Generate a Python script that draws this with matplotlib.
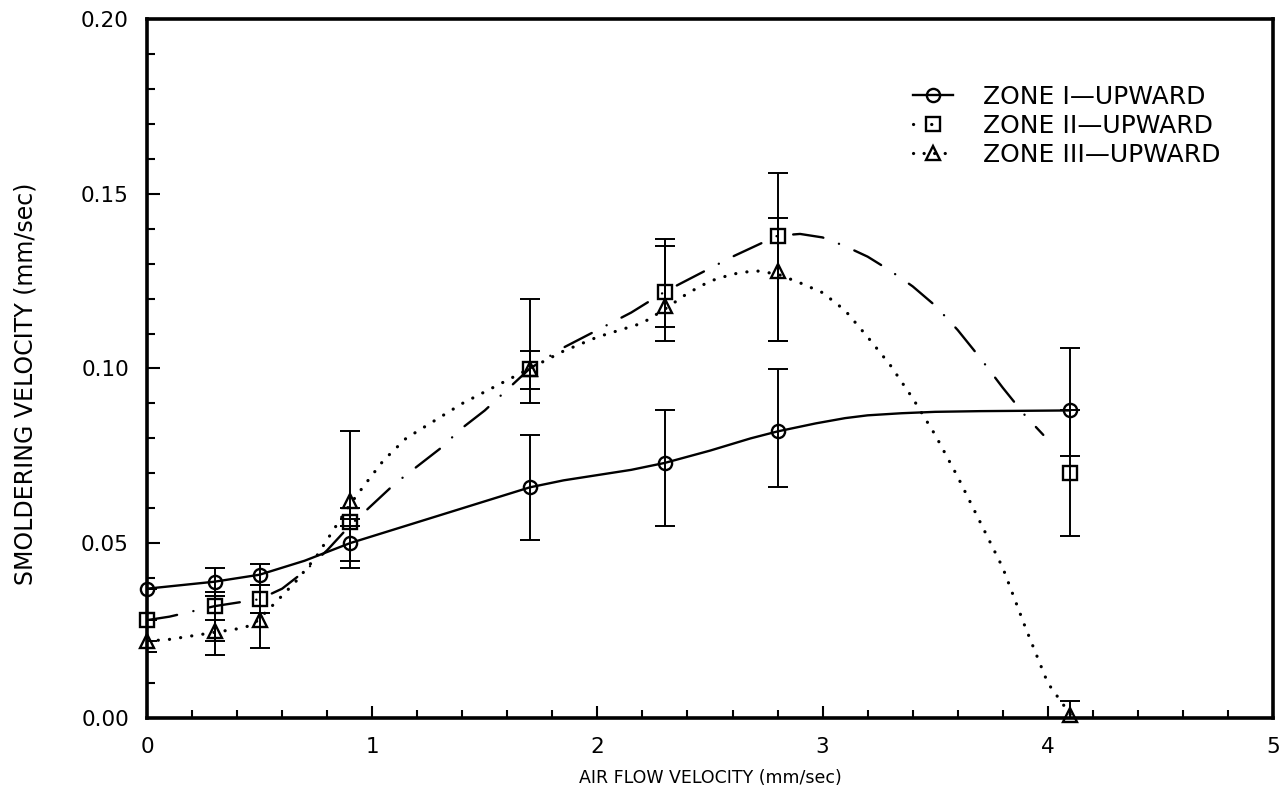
import matplotlib
matplotlib.use("Agg")
import matplotlib.pyplot as plt
from matplotlib.lines import Line2D
from matplotlib.ticker import MultipleLocator, FormatStrFormatter

plt.rcParams['font.family'] = ['DejaVu Sans']
plt.rcParams['lines.scale_dashes'] = False

# Measured points (air flow velocity, mm/sec)
air_flow = [0.0, 0.3, 0.5, 0.9, 1.7, 2.3, 2.8, 4.1]

zone1_v = [0.037, 0.039, 0.041, 0.050, 0.066, 0.073, 0.082, 0.088]
zone1_lo = [0.0, 0.004, 0.003, 0.005, 0.015, 0.018, 0.016, 0.013]
zone1_hi = [0.0, 0.004, 0.003, 0.005, 0.015, 0.015, 0.018, 0.018]

zone2_v = [0.028, 0.032, 0.034, 0.056, 0.100, 0.122, 0.138, 0.070]
zone2_lo = [0.0, 0.010, 0.004, 0.013, 0.010, 0.014, 0.030, 0.018]
zone2_hi = [0.0, 0.004, 0.004, 0.004, 0.020, 0.015, 0.018, 0.018]

zone3_v = [0.022, 0.025, 0.028, 0.062, 0.100, 0.118, 0.128, 0.001]
zone3_lo = [0.003, 0.007, 0.008, 0.005, 0.006, 0.006, 0.020, 0.001]
zone3_hi = [0.0, 0.003, 0.002, 0.020, 0.005, 0.017, 0.015, 0.004]

# Fitted trend curves
fit1_x = [0.0, 0.15, 0.3, 0.5, 0.6, 0.7, 0.82, 0.9, 1.0, 1.15, 1.3, 1.45, 1.6, 1.7,
          1.85, 2.0, 2.15, 2.3, 2.5, 2.68, 2.8, 2.97, 3.1, 3.2, 3.35, 3.5, 3.7, 3.9, 4.1]
fit1_y = [0.037, 0.038, 0.039, 0.041, 0.043, 0.045, 0.048, 0.050, 0.052, 0.055, 0.058,
          0.061, 0.064, 0.066, 0.068, 0.0695, 0.071, 0.073, 0.0765, 0.080, 0.082, 0.0843,
          0.0858, 0.0866, 0.0872, 0.0876, 0.0878, 0.0879, 0.088]

fit2_x = [0.0, 0.1, 0.2, 0.3, 0.4, 0.5, 0.6, 0.7, 0.8, 0.9, 1.0, 1.1, 1.2, 1.3, 1.4,
          1.5, 1.6, 1.7, 1.85, 2.0, 2.15, 2.3, 2.45, 2.6, 2.7, 2.8, 2.9, 3.0, 3.1, 3.2,
          3.3, 3.4, 3.5, 3.6, 3.7, 3.8, 3.9, 3.98]
fit2_y = [0.028, 0.029, 0.0305, 0.032, 0.033, 0.034, 0.037, 0.042, 0.048, 0.055, 0.061,
          0.067, 0.072, 0.077, 0.083, 0.088, 0.094, 0.100, 0.106, 0.111, 0.116, 0.122,
          0.127, 0.132, 0.135, 0.138, 0.1385, 0.1375, 0.135, 0.132, 0.128, 0.1235, 0.118,
          0.111, 0.103, 0.0945, 0.0865, 0.081]

fit3_x = [0.0, 0.1, 0.2, 0.3, 0.4, 0.47, 0.57, 0.66, 0.75, 0.83, 0.9, 0.97, 1.05, 1.15,
          1.25, 1.4, 1.55, 1.7, 1.85, 2.0, 2.1, 2.2, 2.3, 2.4, 2.5, 2.6, 2.7, 2.8, 2.9,
          3.0, 3.1, 3.2, 3.3, 3.4, 3.5, 3.6, 3.7, 3.8, 3.9, 4.0, 4.1]
fit3_y = [0.022, 0.0225, 0.0235, 0.0245, 0.0255, 0.0266, 0.033, 0.039, 0.046, 0.054,
          0.061, 0.067, 0.0737, 0.080, 0.084, 0.090, 0.095, 0.100, 0.105, 0.109, 0.111,
          0.113, 0.117, 0.1215, 0.125, 0.127, 0.128, 0.127, 0.1245, 0.1217, 0.1166, 0.109,
          0.101, 0.0915, 0.081, 0.069, 0.056, 0.043, 0.026, 0.010, 0.001]

labels = ["ZONE I\u2014UPWARD", "ZONE II\u2014UPWARD", "ZONE III\u2014UPWARD"]

fig = plt.figure(figsize=(12.8, 7.99), dpi=100)
ax = fig.add_axes([147 / 1280, 81 / 799, 1126 / 1280, 699 / 799])

ink = 'black'
dash2 = (0, (22, 12, 0.1, 12))
dot3 = (0, (0.1, 8))

# trend curves
ax.plot(fit1_x, fit1_y, color=ink, lw=1.7, ls='-', solid_capstyle='round')
ax.plot(fit2_x, fit2_y, color=ink, lw=1.7, ls=dash2, dash_capstyle='round')
ax.plot(fit3_x, fit3_y, color=ink, lw=2.3, ls=dot3, dash_capstyle='round')

# error bars
err_kw = dict(fmt='none', ecolor=ink, elinewidth=1.4, capsize=7, capthick=1.4)
ax.errorbar(air_flow, zone1_v, yerr=[zone1_lo, zone1_hi], **err_kw)
ax.errorbar(air_flow, zone2_v, yerr=[zone2_lo, zone2_hi], **err_kw)
ax.errorbar(air_flow, zone3_v, yerr=[zone3_lo, zone3_hi], **err_kw)

# markers
mk_kw = dict(ls='none', mfc='none', mec=ink, mew=1.7, clip_on=False)
ax.plot(air_flow, zone1_v, marker='o', ms=9.5, **mk_kw)
ax.plot(air_flow, zone2_v, marker='s', ms=9.5, **mk_kw)
ax.plot(air_flow, zone3_v, marker='^', ms=9.5, **mk_kw)

ax.set_xlim(0, 5)
ax.set_ylim(0, 0.20)
ax.xaxis.set_major_locator(MultipleLocator(1))
ax.xaxis.set_minor_locator(MultipleLocator(0.2))
ax.yaxis.set_major_locator(MultipleLocator(0.05))
ax.yaxis.set_minor_locator(MultipleLocator(0.01))
ax.yaxis.set_major_formatter(FormatStrFormatter('%.2f'))
ax.xaxis.set_major_formatter(FormatStrFormatter('%d'))

ax.tick_params(which='both', direction='in', top=False, right=False, width=1.5, colors=ink)
ax.tick_params(which='major', length=9)
ax.tick_params(which='minor', length=6)
ax.tick_params(axis='x', which='major', labelsize=15.5, pad=14)
ax.tick_params(axis='y', which='major', labelsize=15.5, pad=13)

for sp in ax.spines.values():
    sp.set_linewidth(2.6)
    sp.set_color(ink)

ax.set_xlabel("AIR FLOW VELOCITY (mm/sec)", fontsize=12.5, labelpad=8)
ax.set_ylabel("SMOLDERING VELOCITY (mm/sec)", fontsize=17, labelpad=31)
ax.yaxis.set_label_coords(-0.097, 0.478)

handles = [
    Line2D([], [], color=ink, lw=1.7, ls='-', marker='o', ms=9.5, mfc='none', mew=1.7),
    Line2D([], [], color=ink, lw=2.3, ls=(0, (0.1, 13, 0.1, 40)), dash_capstyle='round',
           marker='s', ms=9.5, mfc='none', mew=1.7),
    Line2D([], [], color=ink, lw=2.3, ls=(0, (0.1, 7.5)), dash_capstyle='round',
           marker='^', ms=9.5, mfc='none', mew=1.7),
]
ax.legend(handles, labels, loc='upper left', bbox_to_anchor=(0.671, 0.92),
          frameon=False, fontsize=18, handlelength=1.6, handletextpad=1.2,
          labelspacing=0.2, borderaxespad=0)

fig.savefig("out.png", dpi=100, facecolor='white')
